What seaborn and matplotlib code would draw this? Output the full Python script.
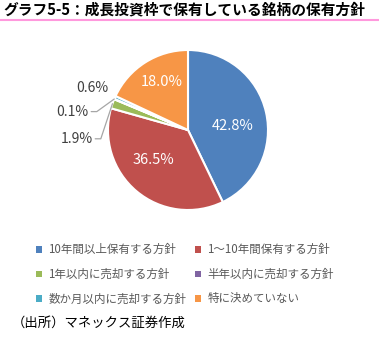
import numpy as np
import matplotlib
matplotlib.use("Agg")
import matplotlib.pyplot as plt
import seaborn as sns

# ------------------------------------------------------------------
# DONNÉES
# ------------------------------------------------------------------
categories = ["10年間以上保有する方針", "1～10年間保有する方針", "1年以内に売却する方針",
              "半年以内に売却する方針", "数か月以内に売却する方針", "特に決めていない"]
values = [42.8, 36.5, 1.9, 0.1, 0.6, 18.0]
colors = ["#4F81BD", "#C0504D", "#9BBB59", "#8064A2", "#4BACC6", "#F79646"]
title = "グラフ5-5：成長投資枠で保有している銘柄の保有方針"
source = "（出所）マネックス証券作成"

sns.set_style("white")
plt.rcParams['font.family'] = ['Noto Sans CJK JP', 'DejaVu Sans']

W, H = 379, 353
fig = plt.figure(figsize=(W / 100, H / 100), dpi=100)

# pie axes : centre (188,130), rayon 80 px
cx, cy, r = 188, 130, 80
ax = fig.add_axes([(cx - r) / W, 1 - (cy + r) / H, 2 * r / W, 2 * r / H])

wedges, _ = ax.pie(values, colors=colors, startangle=90, counterclock=False,
                   wedgeprops=dict(edgecolor="white", linewidth=1.5))
ax.set_xlim(-1, 1)
ax.set_ylim(-1, 1)
ax.set_aspect("equal")
ax.axis("off")

# positions des étiquettes (style Excel "best fit")
inside = {0: (0.56, 0.05), 1: (-0.43, -0.37), 5: (-0.33, 0.6)}
outside = {2: (-1.19, -0.11), 3: (-1.24, 0.23), 4: (-1.0, 0.52)}
for i, (w, v) in enumerate(zip(wedges, values)):
    mid = np.deg2rad((w.theta1 + w.theta2) / 2)
    txt = f"{v:.1f}%"
    if i in outside:
        tx, ty = outside[i]
        ax.text(tx, ty, txt, ha="right", va="center", fontsize=10,
                color="#404040", clip_on=False)
        if i != 4:
            ex, ey = np.cos(mid), np.sin(mid)
            ax.plot([tx + 0.03, tx + 0.1, ex], [ty, ty, ey], color="#A6A6A6",
                    lw=0.9, clip_on=False)
    else:
        tx, ty = inside[i]
        ax.text(tx, ty, txt, ha="center", va="center", fontsize=10.5,
                color="white")

# titre + trait rose
fig.text(3 / W, 1 - 9 / H, title, ha="left", va="center", fontsize=10.6,
         fontweight="bold", color="black")
fig.add_artist(plt.Line2D([0, 1], [1 - 19.5 / H] * 2, color="#FF99DD", lw=1.5))

# légende (ordre ligne par ligne)
order = [0, 2, 4, 1, 3, 5]
leg = fig.legend([wedges[i] for i in order], [categories[i] for i in order],
                 ncol=2, loc="upper left", bbox_to_anchor=(26 / W, 1 - 233 / H),
                 frameon=False, fontsize=8.3, handlelength=0.5, handleheight=0.5,
                 handletextpad=0.55, columnspacing=0.75, labelspacing=1.0,
                 labelcolor="#595959")
for h in leg.legend_handles:
    h.set_edgecolor("none")

fig.text(12 / W, 1 - 323 / H, source, ha="left", va="center", fontsize=9.6,
         color="black")

plt.savefig("out.png", dpi=100)
plt.close()
